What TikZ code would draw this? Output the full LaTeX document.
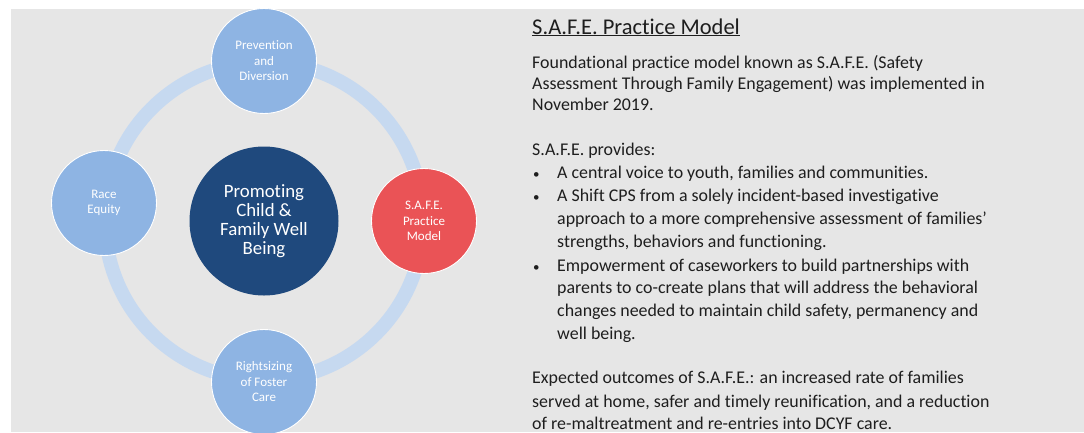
\documentclass[tikz,border=0pt]{standalone}
\usepackage{fontspec}
\setmainfont{Carlito}[Ligatures={NoCommon}]
\definecolor{panel}{HTML}{E6E6E6}
\definecolor{ringblue}{HTML}{C6D9F0}
\definecolor{petal}{HTML}{8EB4E3}
\definecolor{navy}{HTML}{1F497D}
\definecolor{safered}{HTML}{EA5356}
\definecolor{bodytext}{HTML}{1E1E1E}
\begin{document}
\begin{tikzpicture}[x=1pt,y=-1pt,
  petalnode/.style={circle, fill=petal, draw=white, line width=0.9pt,
    minimum size=105pt, inner sep=0pt, text=white, align=center,
    font=\fontsize{13}{15.5}\selectfont},
  hubnode/.style={circle, fill=navy, minimum size=149pt, inner sep=0pt,
    text=white, align=center, font=\fontsize{18.8}{19}\selectfont},
  line/.style={anchor=base west, inner sep=0pt, text=bodytext,
    font=\fontsize{17.9}{20}\selectfont},
  bulletmark/.style={anchor=base west, inner sep=0pt, text=bodytext,
    font=\fontsize{13}{20}\selectfont}]
\useasboundingbox (0,0) rectangle (1084,432);
\clip (0,0) rectangle (1084,432);
\fill[panel] (11,9) rectangle (1084,432);

% ring behind the cycle
\coordinate (hubc) at (264,221);
\draw[ringblue, line width=14pt] (hubc) circle[radius=159];

% cycle nodes
\node[hubnode] (hub) at (hubc) {Promoting\\Child \&\\Family Well\\Being};
\node[petalnode] (prev) at (264,61) {Prevention\\and\\Diversion};
\node[petalnode] (race) at (104,203) {Race\\Equity};
\node[petalnode, fill=safered] (safe) at (424,221) {S.A.F.E.\\Practice\\Model};
\node[petalnode] (right) at (264,382) {Rightsizing\\of Foster\\Care};

% text panel
\node[anchor=base west, inner sep=0pt, text=bodytext,
  font=\fontsize{22.5}{24}\selectfont] (title) at (532,34)
  {\underline{S.A.F.E. Practice Model}};

\node[line] (l1) at (532,68) {Foundational practice model known as S.A.F.E. (Safety};
\node[line] (l2) at (532,89) {Assessment Through Family Engagement) was implemented in};
\node[line] (l3) at (532,110) {November 2019.};

\node[line] (l4) at (532,155) {S.A.F.E. provides:};
\node[bulletmark] (b1) at (533,178) {•};
\node[line] (l5) at (557,178) {A central voice to youth, families and communities.};
\node[bulletmark] (b2) at (533,201) {•};
\node[line] (l6) at (557,201) {A Shift CPS from a solely incident-based investigative};
\node[line] (l7) at (557,224) {approach to a more comprehensive assessment of families'};
\node[line] (l8) at (557,247) {strengths, behaviors and functioning.};
\node[bulletmark] (b3) at (533,271) {•};
\node[line] (l9) at (557,271) {Empowerment of caseworkers to build partnerships with};
\node[line] (l10) at (557,293) {parents to co-create plans that will address the behavioral};
\node[line] (l11) at (557,316) {changes needed to maintain child safety, permanency and};
\node[line] (l12) at (557,339) {well being.};

\node[line] (l13) at (532,383) {Expected outcomes of S.A.F.E.: an increased rate of families};
\node[line] (l14) at (532,407) {served at home, safer and timely reunification, and a reduction};
\node[line] (l15) at (532,429) {of re-maltreatment and re-entries into DCYF care.};
\end{tikzpicture}
\end{document}
